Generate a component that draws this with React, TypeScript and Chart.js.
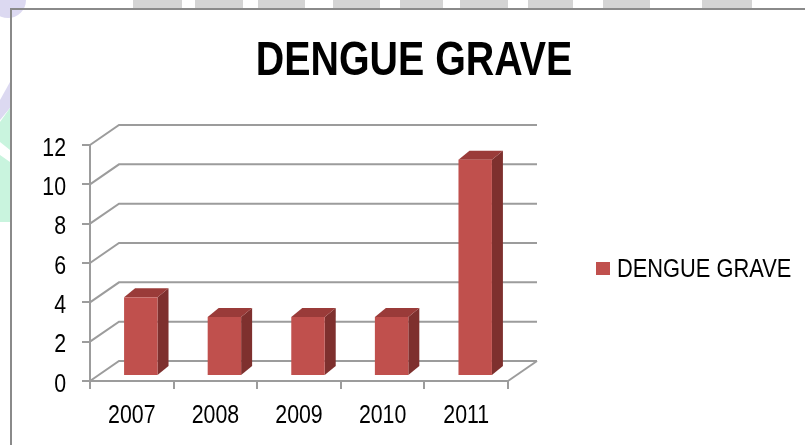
import React, { useEffect, useRef } from "react";
import { Chart, registerables } from "chart.js";

Chart.register(...registerables);

const categories: string[] = ["2007", "2008", "2009", "2010", "2011"];
const seriesName = "DENGUE GRAVE";
const seriesValues: number[] = [4, 3, 3, 3, 11];
const chartTitle = "DENGUE GRAVE";
const yMin = 0;
const yMax = 12;
const yStep = 2;

const FONT = "'Liberation Sans', Arial, sans-serif";
const NARROW_X = 0.82; // Arial Narrow look: Arial compressed horizontally
const FRONT = "#C0504D";
const SIDE = "#7E302E";
const TOP = "#9A3B39";
const GRID = "#9c9c9c";

// 3D geometry (pixels)
const WALL_DX = 29;
const WALL_DY = -20;
const FACE_DX = 9;
const FACE_DY = -5;
const BAR_DX = 11;
const BAR_DY = -9;

function drawNarrow(
  ctx: CanvasRenderingContext2D,
  text: string,
  x: number,
  y: number,
  align: CanvasTextAlign,
  font: string,
  sx: number = NARROW_X
) {
  ctx.save();
  ctx.translate(x, y);
  ctx.scale(sx, 1);
  ctx.font = font;
  ctx.textAlign = align;
  ctx.textBaseline = "alphabetic";
  ctx.fillStyle = "#000000";
  ctx.fillText(text, 0, 0);
  ctx.restore();
}

const decorPlugin = {
  id: "decor3d",
  beforeDraw(chart: any) {
    const ctx = chart.ctx;
    ctx.save();
    ctx.fillStyle = "#ffffff";
    ctx.fillRect(0, 0, chart.width, chart.height);
    // faint watermark behind the frame
    ctx.fillStyle = "#d4d4d4";
    const blocks = [
      [133, 182], [195, 243], [258, 305], [333, 380], [400, 443],
      [460, 508], [528, 573], [603, 650], [702, 752],
    ];
    blocks.forEach(([a, b]) => ctx.fillRect(a, 0, b - a, 8));
    ctx.fillStyle = "#dcd9f1";
    ctx.beginPath();
    ctx.arc(8, 0, 18, 0, Math.PI);
    ctx.fill();
    ctx.beginPath();
    ctx.moveTo(0, 100);
    ctx.lineTo(10, 82);
    ctx.lineTo(10, 108);
    ctx.lineTo(0, 120);
    ctx.fill();
    ctx.fillStyle = "#c9f4de";
    ctx.beginPath();
    ctx.moveTo(0, 122);
    ctx.lineTo(10, 108);
    ctx.lineTo(10, 150);
    ctx.lineTo(0, 142);
    ctx.closePath();
    ctx.fill();
    ctx.beginPath();
    ctx.moveTo(0, 155);
    ctx.lineTo(10, 162);
    ctx.lineTo(10, 222);
    ctx.lineTo(0, 222);
    ctx.closePath();
    ctx.fill();
    // frame
    ctx.strokeStyle = "#8a8a8a";
    ctx.lineWidth = 2;
    ctx.beginPath();
    ctx.moveTo(11, chart.height);
    ctx.lineTo(11, 9);
    ctx.lineTo(chart.width, 9);
    ctx.stroke();
    // title
    drawNarrow(ctx, chartTitle, 414, 75, "center", `bold 48px ${FONT}`);
    // legend
    ctx.fillStyle = FRONT;
    ctx.fillRect(596, 262, 14, 13);
    drawNarrow(ctx, seriesName, 617, 277, "left", `26px ${FONT}`, 0.84);
    ctx.restore();
  },
  beforeDatasetsDraw(chart: any) {
    const ctx = chart.ctx;
    const y = chart.scales.y;
    const { left, right, bottom } = chart.chartArea;
    ctx.save();
    ctx.strokeStyle = GRID;
    ctx.lineWidth = 2;
    for (let v = yMin; v <= yMax; v += yStep) {
      const py = y.getPixelForValue(v);
      ctx.beginPath();
      ctx.moveTo(left, py);
      ctx.lineTo(left + WALL_DX, py + WALL_DY);
      ctx.lineTo(right + WALL_DX, py + WALL_DY);
      ctx.stroke();
    }
    ctx.beginPath();
    ctx.moveTo(right, bottom);
    ctx.lineTo(right + WALL_DX, bottom + WALL_DY);
    ctx.stroke();
    ctx.restore();
  },
  afterDatasetsDraw(chart: any) {
    const ctx = chart.ctx;
    const meta = chart.getDatasetMeta(0);
    ctx.save();
    meta.data.forEach((bar: any) => {
      const { x, y, base, width } = bar.getProps(["x", "y", "base", "width"], true);
      const l = x - width / 2 + FACE_DX;
      const r = x + width / 2 + FACE_DX;
      const t = y + FACE_DY;
      const b = base + FACE_DY;
      ctx.fillStyle = SIDE;
      ctx.beginPath();
      ctx.moveTo(r, t);
      ctx.lineTo(r + BAR_DX, t + BAR_DY);
      ctx.lineTo(r + BAR_DX, b + BAR_DY);
      ctx.lineTo(r, b);
      ctx.closePath();
      ctx.fill();
      ctx.fillStyle = TOP;
      ctx.beginPath();
      ctx.moveTo(l, t);
      ctx.lineTo(l + BAR_DX, t + BAR_DY);
      ctx.lineTo(r + BAR_DX, t + BAR_DY);
      ctx.lineTo(r, t);
      ctx.closePath();
      ctx.fill();
      ctx.fillStyle = FRONT;
      ctx.fillRect(l, t, r - l, b - t);
    });
    ctx.restore();
  },
  afterDraw(chart: any) {
    const ctx = chart.ctx;
    const xs = chart.scales.x;
    const ys = chart.scales.y;
    const tickFont = `26px ${FONT}`;
    xs.ticks.forEach((t: any, i: number) => {
      const px = xs.getPixelForTick(i);
      drawNarrow(ctx, String(t.label), px, 423, "center", tickFont);
    });
    ys.ticks.forEach((t: any, i: number) => {
      const py = ys.getPixelForTick(i);
      drawNarrow(ctx, String(t.label), 66, py + 10.5, "right", tickFont);
    });
  },
};

export default function App() {
  const ref = useRef<HTMLCanvasElement | null>(null);
  useEffect(() => {
    if (!ref.current) return;
    const chart = new Chart(ref.current, {
      type: "bar",
      data: {
        labels: categories,
        datasets: [
          {
            label: seriesName,
            data: seriesValues,
            backgroundColor: "rgba(0,0,0,0)",
            borderWidth: 0,
            barPercentage: 0.4,
            categoryPercentage: 1,
          },
        ],
      },
      options: {
        animation: false,
        responsive: false,
        devicePixelRatio: 1,
        layout: { padding: { left: 20, right: 297, top: 145, bottom: 0 } },
        plugins: {
          legend: { display: false },
          title: { display: false },
          tooltip: { enabled: false },
        },
        scales: {
          x: {
            afterFit: (s: any) => {
              s.height = 64;
            },
            grid: {
              offset: true,
              drawOnChartArea: false,
              drawTicks: true,
              tickLength: 8,
              color: GRID,
              lineWidth: 2,
            },
            border: { display: true, color: GRID, width: 2 },
            ticks: {
              color: "rgba(0,0,0,0)",
              padding: 9,
              font: { family: FONT, size: 26 },
            },
          },
          y: {
            min: yMin,
            max: yMax,
            afterFit: (s: any) => {
              s.width = 70;
            },
            grid: {
              drawOnChartArea: false,
              drawTicks: true,
              tickLength: 8,
              color: GRID,
              lineWidth: 2,
            },
            border: { display: true, color: GRID, width: 2 },
            ticks: {
              stepSize: yStep,
              color: "rgba(0,0,0,0)",
              padding: 16,
              font: { family: FONT, size: 26 },
            },
          },
        },
      },
      plugins: [decorPlugin],
    });
    return () => chart.destroy();
  }, []);
  return (
    <div style={{ position: "fixed", left: 0, top: 0, width: 805, height: 445 }}>
      <canvas ref={ref} width={805} height={445} />
    </div>
  );
}
